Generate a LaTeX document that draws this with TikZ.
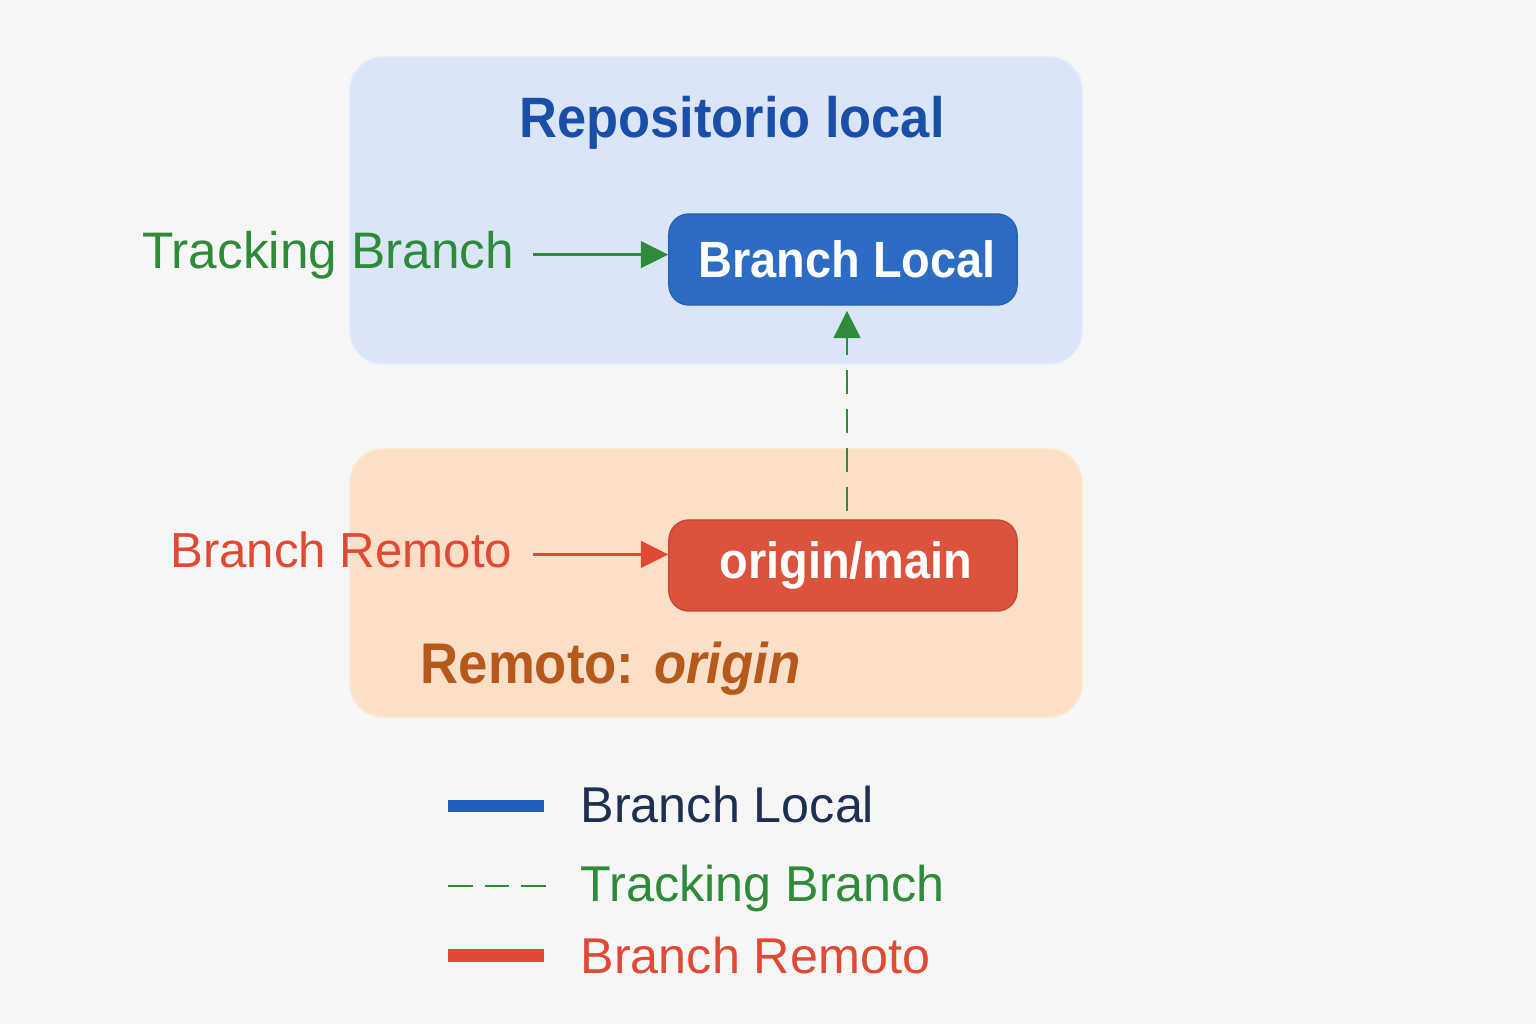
\documentclass[tikz,border=0pt]{standalone}
\usepackage{fontspec}
\setmainfont{Liberation Sans}
\newfontfamily\condsans{Liberation Sans}[FakeStretch=0.92]
\usetikzlibrary{arrows.meta}
\definecolor{bg}{HTML}{F6F6F6}
\definecolor{localbg}{HTML}{DBE5F8}
\definecolor{remotebg}{HTML}{FBDFC6}
\definecolor{titleblue}{HTML}{1A4EA8}
\definecolor{localblue}{HTML}{2D6CC4}
\definecolor{remotered}{HTML}{DB523D}
\definecolor{trackgreen}{HTML}{2E8B3A}
\definecolor{labelred}{HTML}{E04A35}
\definecolor{originbrown}{HTML}{B5591C}
\definecolor{navy}{HTML}{1D3050}
\definecolor{legblue}{HTML}{1F5EBA}

\begin{document}
\begin{tikzpicture}[x=0.01cm, y=-0.01cm,
  box/.style = {rounded corners=0.33cm, minimum width=7.32cm, inner sep=0},
  branch/.style = {draw, rounded corners=0.2cm, minimum width=3.48cm, minimum height=0.91cm, inner sep=0, text=white, font=\condsans\bfseries\fontsize{14.5}{17}\selectfont},
  side/.style = {inner sep=0, anchor=base east, text depth=3pt},
  legtext/.style = {inner sep=0, anchor=base west, font=\fontsize{14.3}{17}\selectfont},
  tip/.style = {-{Triangle[length=7.8pt, width=7.6pt]}, line width=0.7pt}]
\fill[bg] (0,0) rectangle (1536,1024);
\node[box, fill=localbg, draw=localbg!70!white, minimum height=3.07cm] (repo) at (716,210.5) {};
\node[box, fill=remotebg, draw=remotebg!70!white, minimum height=2.68cm] (remote) at (716,583) {};
\node[inner sep=0, anchor=base, text=titleblue, font=\condsans\bfseries\fontsize{16.2}{19}\selectfont] (title) at (732,137) {Repositorio local};
\node[branch, fill=localblue, draw=localblue!90!black] (local) at (843,259.5) {\hspace{0.08cm}Branch Local};
\node[branch, fill=remotered, draw=remotered!90!black] (origin) at (843,565.5) {\hspace{0.06cm}origin/main};
\node[side, text=trackgreen, font=\fontsize{14.6}{17}\selectfont] (track) at (515,268) {Tracking Branch};
\node[side, text=labelred, font=\fontsize{14}{17}\selectfont] (remlabel) at (513,567) {Branch Remoto};
\node[inner sep=0, anchor=base west, text=originbrown, font=\condsans\bfseries\fontsize{16.3}{19}\selectfont] (remname) at (420,683) {Remoto: \textit{origin}};
\draw[tip, trackgreen, shorten <=0.18cm] (track.east) -- (track.east -| local.west);
\draw[tip, labelred, shorten <=0.2cm] (remlabel.east) -- (remlabel.east -| origin.west);
\draw[tip, trackgreen, line width=0.8pt, dash pattern=on 6.8pt off 4.3pt, shorten <=0.08cm, shorten >=0.05cm] ([xshift=0.04cm]origin.north) -- ([xshift=0.04cm]local.south);
\coordinate (k1) at (448,806);
\coordinate (k2) at (448,886);
\coordinate (k3) at (448,955);
\node[legtext, text=navy] (leg1) at (580,822) {Branch Local};
\node[legtext, text=trackgreen] (leg2) at (580,901) {Tracking Branch};
\node[legtext, text=labelred] (leg3) at (580,973) {Branch Remoto};
\draw[legblue, line width=3.3pt] (k1) -- ++(96,0);
\draw[trackgreen, line width=0.6pt, dash pattern=on 7pt off 3.4pt] (k2) -- ++(99,0);
\draw[labelred, line width=3.7pt] (k3) -- ++(96,0);
\end{tikzpicture}
\end{document}
